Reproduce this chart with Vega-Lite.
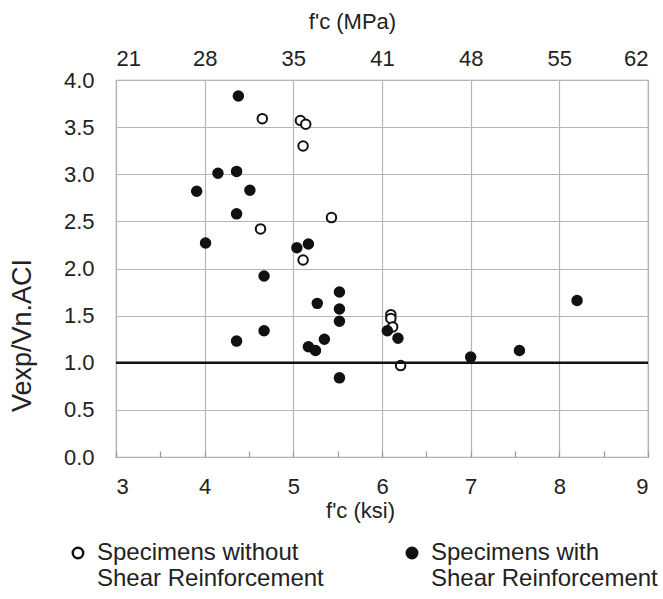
{
  "$schema": "https://vega.github.io/schema/vega-lite/v6.json",
  "autosize": "none",
  "width": 532,
  "height": 377,
  "padding": {"left": 116, "top": 80, "right": 15, "bottom": 142},
  "background": "white",
  "config": {
    "font": "Liberation Sans",
    "view": {"stroke": "#a8a8a8", "strokeWidth": 1.2},
    "axis": {"labelColor": "#222", "titleColor": "#222", "titleFontWeight": "normal", "gridColor": "#b5b5b5", "gridWidth": 1.2}
  },
  "datasets": {
    "pts": [
      {"fc": 4.65, "v": 3.59, "type": "Specimens without|Shear Reinforcement"},
      {"fc": 5.08, "v": 3.57, "type": "Specimens without|Shear Reinforcement"},
      {"fc": 5.14, "v": 3.53, "type": "Specimens without|Shear Reinforcement"},
      {"fc": 5.11, "v": 3.30, "type": "Specimens without|Shear Reinforcement"},
      {"fc": 5.43, "v": 2.54, "type": "Specimens without|Shear Reinforcement"},
      {"fc": 4.63, "v": 2.42, "type": "Specimens without|Shear Reinforcement"},
      {"fc": 5.11, "v": 2.09, "type": "Specimens without|Shear Reinforcement"},
      {"fc": 6.10, "v": 1.51, "type": "Specimens without|Shear Reinforcement"},
      {"fc": 6.10, "v": 1.47, "type": "Specimens without|Shear Reinforcement"},
      {"fc": 6.12, "v": 1.38, "type": "Specimens without|Shear Reinforcement"},
      {"fc": 6.21, "v": 0.97, "type": "Specimens without|Shear Reinforcement"},
      {"fc": 4.38, "v": 3.83, "type": "Specimens with|Shear Reinforcement"},
      {"fc": 4.15, "v": 3.01, "type": "Specimens with|Shear Reinforcement"},
      {"fc": 4.36, "v": 3.03, "type": "Specimens with|Shear Reinforcement"},
      {"fc": 3.91, "v": 2.82, "type": "Specimens with|Shear Reinforcement"},
      {"fc": 4.51, "v": 2.83, "type": "Specimens with|Shear Reinforcement"},
      {"fc": 4.36, "v": 2.58, "type": "Specimens with|Shear Reinforcement"},
      {"fc": 4.01, "v": 2.27, "type": "Specimens with|Shear Reinforcement"},
      {"fc": 5.04, "v": 2.22, "type": "Specimens with|Shear Reinforcement"},
      {"fc": 5.17, "v": 2.26, "type": "Specimens with|Shear Reinforcement"},
      {"fc": 4.67, "v": 1.92, "type": "Specimens with|Shear Reinforcement"},
      {"fc": 5.52, "v": 1.75, "type": "Specimens with|Shear Reinforcement"},
      {"fc": 5.27, "v": 1.63, "type": "Specimens with|Shear Reinforcement"},
      {"fc": 5.52, "v": 1.57, "type": "Specimens with|Shear Reinforcement"},
      {"fc": 5.52, "v": 1.44, "type": "Specimens with|Shear Reinforcement"},
      {"fc": 4.67, "v": 1.34, "type": "Specimens with|Shear Reinforcement"},
      {"fc": 4.36, "v": 1.23, "type": "Specimens with|Shear Reinforcement"},
      {"fc": 5.35, "v": 1.25, "type": "Specimens with|Shear Reinforcement"},
      {"fc": 5.17, "v": 1.17, "type": "Specimens with|Shear Reinforcement"},
      {"fc": 5.25, "v": 1.13, "type": "Specimens with|Shear Reinforcement"},
      {"fc": 5.52, "v": 0.84, "type": "Specimens with|Shear Reinforcement"},
      {"fc": 6.06, "v": 1.34, "type": "Specimens with|Shear Reinforcement"},
      {"fc": 6.18, "v": 1.26, "type": "Specimens with|Shear Reinforcement"},
      {"fc": 7.00, "v": 1.06, "type": "Specimens with|Shear Reinforcement"},
      {"fc": 7.55, "v": 1.13, "type": "Specimens with|Shear Reinforcement"},
      {"fc": 8.20, "v": 1.66, "type": "Specimens with|Shear Reinforcement"}
    ]
  },
  "data": {"name": "pts"},
  "resolve": {"axis": {"x": "independent"}},
  "layer": [
    {
      "mark": {"type": "point", "filled": true, "stroke": "#111", "strokeWidth": 2, "size": 90, "opacity": 1},
      "encoding": {
        "x": {
          "field": "fc", "type": "quantitative",
          "scale": {"domain": [3, 9], "nice": false, "zero": false},
          "axis": {
            "orient": "bottom",
            "values": [3, 3.5, 4, 4.5, 5, 5.5, 6, 6.5, 7, 7.5, 8, 8.5, 9],
            "labelExpr": "datum.value % 1 === 0 ? format(datum.value, 'd') : ''",
            "grid": true,
            "gridOpacity": {"condition": {"test": "datum.value % 1 !== 0", "value": 0}, "value": 1},
            "domain": false,
            "ticks": true,
            "tickSize": -6,
            "tickColor": "#999",
            "tickWidth": 1.2,
            "labelFontSize": 22,
            "labelPadding": 25,
            "title": "f'c (ksi)",
            "titleFontSize": 22,
            "titleX": 244,
            "titleY": 60,
            "titleBaseline": "alphabetic"
          }
        },
        "y": {
          "field": "v", "type": "quantitative",
          "scale": {"domain": [0, 4], "nice": false},
          "axis": {
            "values": [0, 0.5, 1, 1.5, 2, 2.5, 3, 3.5, 4],
            "format": ".1f",
            "grid": true,
            "domain": false,
            "ticks": false,
            "labelFontSize": 22,
            "labelPadding": 22,
            "title": "Vexp/Vn.ACI",
            "titleFontSize": 27,
            "titleX": -80,
            "titleY": 255
          }
        },
        "fill": {
          "field": "type", "type": "nominal",
          "scale": {"domain": ["Specimens without|Shear Reinforcement", "Specimens with|Shear Reinforcement"], "range": ["white", "#111"]},
          "legend": {
            "title": null,
            "orient": "none",
            "legendX": -50,
            "legendY": 461,
            "direction": "horizontal",
            "columns": 2,
            "columnPadding": 76,
            "padding": 0,
            "labelExpr": "split(datum.label, '|')",
            "labelFontSize": 24,
            "labelColor": "#222",
            "labelLimit": 400,
            "labelOffset": 7,
            "labelBaseline": "middle",
            "symbolType": "circle",
            "symbolSize": 110,
            "symbolStrokeColor": "#111",
            "symbolStrokeWidth": 2.5
          }
        }
      }
    },
    {
      "mark": {"type": "point", "opacity": 0},
      "encoding": {
        "x": {
          "field": "fc", "type": "quantitative",
          "axis": {
            "orient": "top",
            "values": [3, 4, 5, 6, 7, 8, 9],
            "labelExpr": "['21','28','35','41','48','55','62'][datum.value - 3]",
            "grid": false,
            "domain": false,
            "ticks": false,
            "labelFontSize": 22,
            "labelPadding": 10,
            "title": "f'c (MPa)",
            "titleFontSize": 22,
            "titleX": 236,
            "titleY": -52,
            "titleBaseline": "alphabetic"
          }
        }
      }
    },
    {
      "data": {"values": [{"ref": 1}]},
      "mark": {"type": "rule", "color": "#111", "strokeWidth": 2.5},
      "encoding": {"y": {"field": "ref", "type": "quantitative"}}
    }
  ]
}
